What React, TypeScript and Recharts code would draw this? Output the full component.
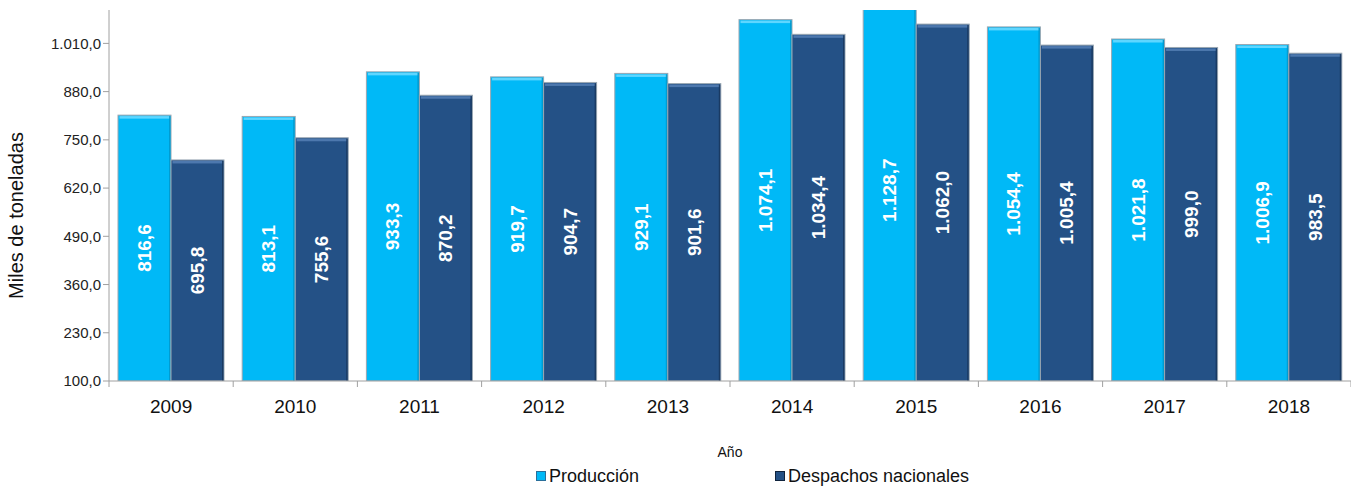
import React from "react";
import { BarChart, Bar, XAxis, YAxis, Legend, LabelList } from "recharts";

const years = ["2009", "2010", "2011", "2012", "2013", "2014", "2015", "2016", "2017", "2018"];
const produccion = [816.6, 813.1, 933.3, 919.7, 929.1, 1074.1, 1128.7, 1054.4, 1021.8, 1006.9];
const despachos = [695.8, 755.6, 870.2, 904.7, 901.6, 1034.4, 1062.0, 1005.4, 999.0, 983.5];
const yTicks = [100, 230, 360, 490, 620, 750, 880, 1010];

const data = years.map((y, i) => ({ year: y, produccion: produccion[i], despachos: despachos[i] }));

const FONT = "'Liberation Sans', Arial, sans-serif";
const W = 1351;
const H = 487;
const MARGIN = { top: 10, right: 0, left: 30, bottom: 0 };
const Y_WIDTH = 79;

function fmt(v: number): string {
  const fixed = v.toFixed(1);
  const [intPart, dec] = fixed.split(".");
  const withSep = intPart.replace(/\B(?=(\d{3})+(?!\d))/g, ".");
  return `${withSep},${dec}`;
}

const makeShape = (fill: string, hi: string, dark: string) => (props: any) => {
  const { x, y, width, height } = props;
  if (!width || !height || height <= 0) return null;
  return (
    <g>
      <rect x={x} y={y} width={width} height={height} fill={fill} stroke="#9aa7b2" strokeWidth={1} />
      <rect x={x + 1.5} y={y + 1} width={width - 3} height={2.5} fill={hi} />
      <rect x={x + width - 2} y={y + 1} width={1.5} height={height - 1} fill={dark} opacity={0.6} />
    </g>
  );
};

const ProdShape = makeShape("#00B9F7", "#5ED6FF", "#0089b8");
const DespShape = makeShape("#245186", "#4D78AE", "#132c4d");

const RotLabel = (props: any) => {
  const { x, y, width, height, value } = props;
  const cx = x + width / 2;
  const cy = y + height / 2;
  return (
    <text
      x={cx}
      y={cy}
      transform={`rotate(-90, ${cx}, ${cy})`}
      textAnchor="middle"
      dominantBaseline="central"
      fill="#ffffff"
      fontFamily={FONT}
      fontWeight="bold"
      fontSize={19}
    >
      {fmt(value)}
    </text>
  );
};

const plotWidth = W - MARGIN.left - MARGIN.right - Y_WIDTH;
const step = plotWidth / years.length;

const XTick = (props: any) => {
  const { x, y, payload, index } = props;
  const left = x - step / 2;
  return (
    <g>
      <line x1={left} y1={y - 8} x2={left} y2={y - 2} stroke="#a0a0a0" />
      {index === years.length - 1 && (
        <line x1={x + step / 2} y1={y - 8} x2={x + step / 2} y2={y - 2} stroke="#a0a0a0" />
      )}
      <text x={x} y={y + 24} textAnchor="middle" fontFamily={FONT} fontSize={19} fill="#111">
        {payload.value}
      </text>
    </g>
  );
};

const YLabel = (props: any) => {
  const { viewBox } = props;
  const cx = 16;
  const cy = viewBox.y + viewBox.height / 2 + 20;
  return (
    <text
      x={cx}
      y={cy}
      transform={`rotate(-90, ${cx}, ${cy})`}
      textAnchor="middle"
      dominantBaseline="central"
      fontFamily={FONT}
      fontSize={20}
      fill="#111"
    >
      Miles de toneladas
    </text>
  );
};

const LegendContent = () => (
  <div
    style={{
      display: "flex",
      justifyContent: "flex-start",
      paddingLeft: 506,
      paddingTop: 4,
      fontFamily: FONT,
      fontSize: 18,
      color: "#111",
      lineHeight: "20px",
    }}
  >
    <span style={{ display: "flex", alignItems: "center", width: 239 }}>
      <span
        style={{
          width: 8,
          height: 8,
          background: "#00B9F7",
          border: "1px solid #2a6f9a",
          marginRight: 3,
          display: "inline-block",
        }}
      />
      Producción
    </span>
    <span style={{ display: "flex", alignItems: "center" }}>
      <span
        style={{
          width: 8,
          height: 8,
          background: "#245186",
          border: "1px solid #10233d",
          marginRight: 3,
          display: "inline-block",
        }}
      />
      Despachos nacionales
    </span>
  </div>
);

export default function App() {
  return (
    <div style={{ position: "absolute", left: 0, top: 0, width: W, height: H, background: "#fff" }}>
      <BarChart width={W} height={H} data={data} margin={MARGIN} barCategoryGap={9} barGap={0}>
        <XAxis
          dataKey="year"
          axisLine={{ stroke: "#a0a0a0" }}
          tickLine={false}
          tick={<XTick />}
          interval={0}
          height={81}
          label={{
            value: "Año",
            position: "insideBottom",
            offset: 5,
            fontFamily: FONT,
            fontSize: 14,
            fill: "#111",
          }}
        />
        <YAxis
          width={Y_WIDTH}
          domain={[100, 1100]}
          ticks={yTicks}
          allowDataOverflow
          axisLine={{ stroke: "#a0a0a0" }}
          tickLine={{ stroke: "#a0a0a0" }}
          tickSize={6}
          tickFormatter={(v: number) => fmt(v)}
          tick={{ fontFamily: FONT, fontSize: 15, fill: "#222" }}
          label={<YLabel />}
        />
        <Legend verticalAlign="bottom" height={25} content={<LegendContent />} />
        <Bar dataKey="produccion" name="Producción" shape={<ProdShape />} isAnimationActive={false}>
          <LabelList dataKey="produccion" content={<RotLabel />} />
        </Bar>
        <Bar dataKey="despachos" name="Despachos nacionales" shape={<DespShape />} isAnimationActive={false}>
          <LabelList dataKey="despachos" content={<RotLabel />} />
        </Bar>
      </BarChart>
    </div>
  );
}
